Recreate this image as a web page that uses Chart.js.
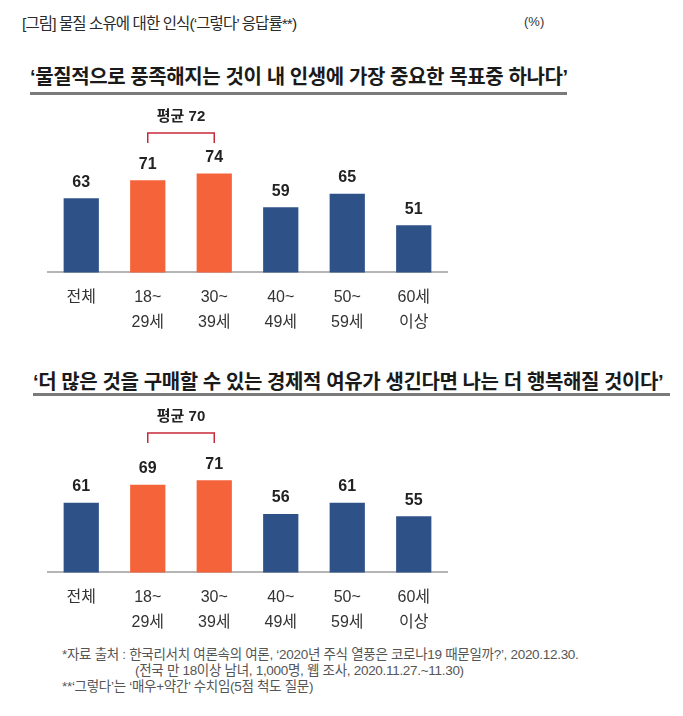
<!DOCTYPE html>
<html>
<head>
<meta charset="utf-8">
<script src="https://cdn.jsdelivr.net/npm/chart.js@4"></script>
<style>
  body { margin: 0; background: #fff; width: 683px; height: 716px; position: relative; overflow: hidden;
         font-family: "Liberation Sans", "Noto Sans CJK KR", sans-serif; color: #222; }
  .abs { position: absolute; white-space: nowrap; }
  .title { left: 22px; top: 11px; font-size: 15.5px; letter-spacing: -0.9px; color: #2a2a2a; }
  .unit { left: 524px; top: 14px; font-size: 13px; color: #333; }
  .sub { font-size: 20px; font-weight: bold; letter-spacing: -0.4px; color: #1a1a1a; }
  .rule { position: absolute; height: 3px; background: #7a7a7a; }
  .note { font-size: 13.5px; color: #555; letter-spacing: -0.3px; }
  canvas { position: absolute; left: 0; }
</style>
</head>
<body>
<div class="abs title">[그림] 물질 소유에 대한 인식(‘그렇다’ 응답률**)</div>
<div class="abs unit">(%)</div>

<div class="abs sub" style="left:30px; top:61px;">‘물질적으로 풍족해지는 것이 내 인생에 가장 중요한 목표중 하나다’</div>
<div class="rule" style="left:30px; top:92px; width:537px;"></div>

<div class="abs sub" style="left:33px; top:366px;">‘더 많은 것을 구매할 수 있는 경제적 여유가 생긴다면 나는 더 행복해질 것이다’</div>
<div class="rule" style="left:33px; top:393px; width:637px;"></div>

<div style="position:absolute; left:0; top:100px; width:683px; height:240px;"><canvas id="chart1"></canvas></div>
<div style="position:absolute; left:0; top:400px; width:683px; height:240px;"><canvas id="chart2"></canvas></div>

<div class="abs note" style="left:62px; top:643px;">*자료 출처 : 한국리서치 여론속의 여론, ‘2020년 주식 열풍은 코로나19 때문일까?’, 2020.12.30.</div>
<div class="abs note" style="left:135px; top:659px;">(전국 만 18이상 남녀, 1,000명, 웹 조사, 2020.11.27.~11.30)</div>
<div class="abs note" style="left:62px; top:675px;">**‘그렇다’는 ‘매우+약간’ 수치임(5점 척도 질문)</div>

<script>
  // 연령대
  var categories = [['전체'], ['18~', '29세'], ['30~', '39세'], ['40~', '49세'], ['50~', '59세'], ['60세', '이상']];
  var values1 = [63, 71, 74, 59, 65, 51];
  var values2 = [61, 69, 71, 56, 61, 55];
  var highlighted = [1, 2];   // 18~39세 묶음
  var average1 = 72;
  var average2 = 70;

  var BLUE = '#2e5288';
  var ORANGE = '#f5633a';
  var FONT = '"Liberation Sans", "Noto Sans CJK KR", sans-serif';

  // 막대 위 숫자 + 평균 괄호
  var labelPlugin = {
    id: 'labels',
    afterDatasetsDraw: function (chart, args, opts) {
      var ctx = chart.ctx;
      var meta = chart.getDatasetMeta(0);
      var x = chart.scales.x, y = chart.scales.y;
      ctx.save();
      ctx.fillStyle = '#222';
      ctx.font = 'bold 16px ' + FONT;
      ctx.textAlign = 'center';
      ctx.textBaseline = 'middle';
      meta.data.forEach(function (bar, i) {
        ctx.fillText(chart.data.datasets[0].data[i], bar.x, bar.y - 16);
      });

      // 괄호
      var x1 = x.getPixelForValue(highlighted[0]);
      var x2 = x.getPixelForValue(highlighted[1]);
      var top = y.getPixelForValue(92);
      var leg = y.getPixelForValue(87.5);
      ctx.strokeStyle = '#c8283a';
      ctx.lineWidth = 1.5;
      ctx.beginPath();
      ctx.moveTo(x1, leg);
      ctx.lineTo(x1, top);
      ctx.lineTo(x2, top);
      ctx.lineTo(x2, leg);
      ctx.stroke();
      ctx.font = 'bold 15px ' + FONT;
      ctx.fillText('평균 ' + opts.average, (x1 + x2) / 2, y.getPixelForValue(99.2));
      ctx.restore();
    }
  };

  function makeChart(id, values, average) {
    var colors = values.map(function (v, i) { return highlighted.indexOf(i) >= 0 ? ORANGE : BLUE; });
    return new Chart(document.getElementById(id), {
      type: 'bar',
      data: {
        labels: categories,
        datasets: [{
          data: values,
          backgroundColor: colors,
          barPercentage: 0.53,
          categoryPercentage: 1
        }]
      },
      options: {
        responsive: true,
        maintainAspectRatio: false,
        animation: false,
        layout: { padding: { left: 48, right: 236, top: 15, bottom: 0 } },
        plugins: {
          legend: { display: false },
          tooltip: { enabled: false },
          labels: { average: average }
        },
        scales: {
          x: {
            grid: { display: false },
            border: { display: true, color: '#b5b5b5', width: 2 },
            ticks: {
              color: '#333',
              padding: 5,
              font: { size: 16, family: FONT, lineHeight: 1.55 }
            }
          },
          y: {
            display: false,
            min: 30,
            max: 100
          }
        }
      },
      plugins: [labelPlugin]
    });
  }

  makeChart('chart1', values1, average1);
  makeChart('chart2', values2, average2);
</script>
</body>
</html>
